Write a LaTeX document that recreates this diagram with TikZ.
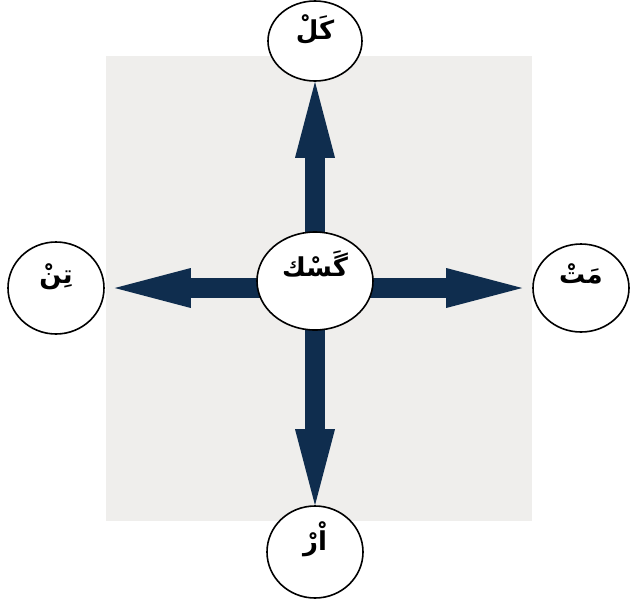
\documentclass[tikz,border=0pt]{standalone}
\usepackage{fontspec}
\newfontfamily\arabicfont[Script=Arabic]{DejaVu Sans}
\TeXXeTstate=1
\usetikzlibrary{arrows.meta, positioning, shapes.geometric, backgrounds}
\definecolor{panelgray}{RGB}{239,238,236}
\definecolor{spokenavy}{RGB}{15,45,78}

\begin{document}
\begin{tikzpicture}[x=1pt, y=-1pt,
  bubble/.style={ellipse, draw=black, line width=1.6pt, fill=white, inner sep=0pt,
    minimum width=96pt, minimum height=92pt,
    font=\arabicfont\bfseries\fontsize{26}{30}\selectfont,
    text height=18pt, text depth=28pt},
  spoke/.style={spokenavy, line width=20pt, -{Triangle[width=40pt,length=76pt,line width=0pt]}}]
\useasboundingbox (0,0) rectangle (630,606);
% word bubbles
\node[bubble, minimum width=116pt, minimum height=98pt] (gask) at (315,281) {\beginR گَسْك\endR};
\node[bubble, minimum width=94pt, minimum height=80pt, text depth=22pt] (kal) at (315,41) {\beginR كَلْ\endR};
\node[bubble] (tin) at (56,288) {\beginR تِنْ\endR};
\node[bubble, minimum height=88pt] (mat) at (581,288) {\beginR مَتْ\endR};
\node[bubble, text depth=22pt] (ar) at (315,552) {\beginR اْرْ\endR};
% panel and arrows behind
\begin{scope}[on background layer]
  \fill[panelgray] (106,56) rectangle (532,521);
  \draw[spoke] (gask.center) -- (kal);
  \draw[spoke] (gask.center) -- (ar);
  \draw[spoke, shorten >=10pt] (gask.center |- tin) -- (tin);
  \draw[spoke, shorten >=10pt] (gask.center |- mat) -- (mat);
\end{scope}
\end{tikzpicture}
\end{document}
